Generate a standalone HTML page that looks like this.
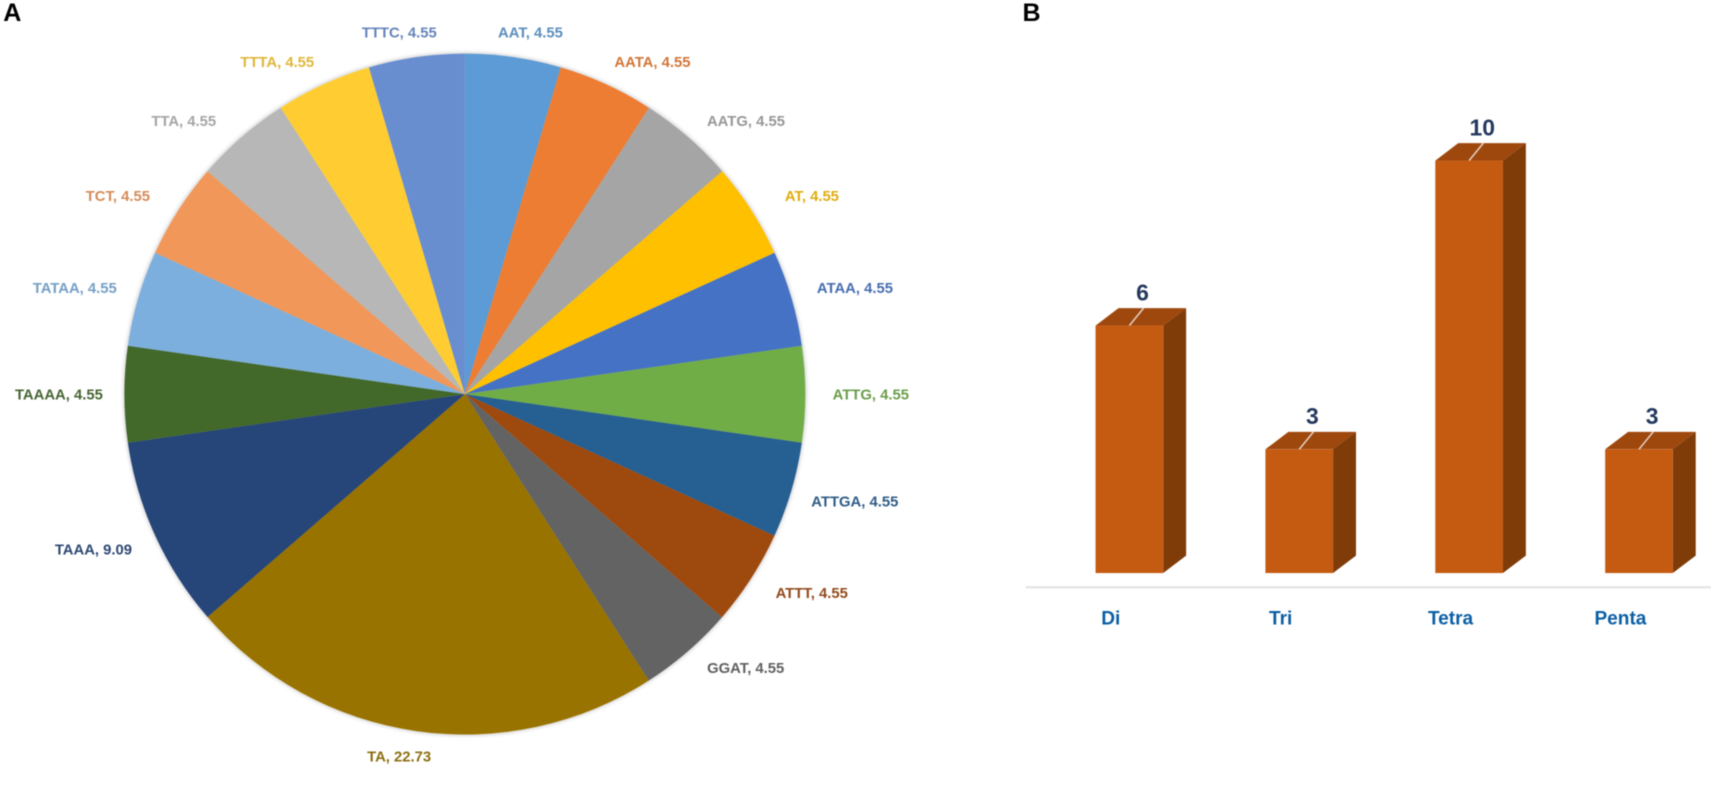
<!DOCTYPE html>
<html lang="en">
<head>
<meta charset="utf-8">
<title>Repeat motif pie chart and repeat type bar chart</title>
<style>
html,body{margin:0;padding:0;background:#fff;width:1711px;height:786px;overflow:hidden}
svg{display:block;filter:blur(0.5px)}
text{font-family:"Liberation Sans",sans-serif;font-weight:700}
</style>
</head>
<body>
<svg id="figure" xmlns="http://www.w3.org/2000/svg" width="1711" height="786" viewBox="0 0 1568 720">
  <defs>
    <filter id="pie-shadow" x="-10%" y="-10%" width="120%" height="120%">
      <feDropShadow dx="0" dy="0" stdDeviation="2.2" flood-color="#000" flood-opacity="0.3"/>
    </filter>
  </defs>
  <text x="3" y="19" font-size="23" fill="#000">A</text>
  <text x="937" y="19" font-size="23" fill="#000">B</text>
  <g id="pie" filter="url(#pie-shadow)"></g>
  <g id="pie-labels"></g>
  <line x1="940" y1="538" x2="1568" y2="538" stroke="#dfe1e3" stroke-width="1.8"/>
  <g id="bars"></g>
</svg>
<script>
const pieCategories = ["AAT","AATA","AATG","AT","ATAA","ATTG","ATTGA","ATTT","GGAT","TA","TAAA","TAAAA","TATAA","TCT","TTA","TTTA","TTTC"];
const pieValues = [4.55,4.55,4.55,4.55,4.55,4.55,4.55,4.55,4.55,22.73,9.09,4.55,4.55,4.55,4.55,4.55,4.55];
const barCategories = ["Di","Tri","Tetra","Penta"];
const barValues = [6,3,10,3];

const NS = "http://www.w3.org/2000/svg";
const palette = ["#5B9BD5","#ED7D31","#A5A5A5","#FFC000","#4472C4","#70AD47","#255E91","#9E480E","#636363","#997300","#264478","#43682B","#7CAFDD","#F1975A","#B7B7B7","#FFCD33","#698ED0"];
const pieCx = 426, pieCy = 361, pieR = 312;
const pieG = document.getElementById("pie");
const pieLabelG = document.getElementById("pie-labels");
const barG = document.getElementById("bars");

function make(tag, attrs, parent) {
  const el = document.createElementNS(NS, tag);
  for (const k in attrs) el.setAttribute(k, attrs[k]);
  parent.appendChild(el);
  return el;
}
function slug(s) { return s.toLowerCase(); }
function muted(hex) {
  const n = parseInt(hex.slice(1), 16);
  const mix = c => Math.round(c * 0.82 + 85 * 0.18);
  return "rgb(" + mix(n >> 16) + "," + mix((n >> 8) & 255) + "," + mix(n & 255) + ")";
}

const pieTotal = pieValues.reduce((a, b) => a + b, 0);
function angleOf(cum) { return cum / pieTotal * Math.PI * 2; }
function px(a, r) { return pieCx + r * Math.sin(a); }
function py(a, r) { return pieCy - r * Math.cos(a); }

let cumulative = 0;
pieValues.forEach((value, i) => {
  const a0 = angleOf(cumulative);
  const a1 = angleOf(cumulative + value);
  cumulative += value;
  const large = a1 - a0 > Math.PI ? 1 : 0;
  const d = "M" + pieCx + " " + pieCy + "L" + px(a0, pieR) + " " + py(a0, pieR) +
    "A" + pieR + " " + pieR + " 0 " + large + " 1 " + px(a1, pieR) + " " + py(a1, pieR) + "Z";
  const slice = make("path", { d: d, fill: palette[i % palette.length] }, pieG);
  
  

  const mid = (a0 + a1) / 2;
  const nudged = mid + (4.5 * Math.sin(2 * mid) + 1.5 * Math.sin(4 * mid)) * Math.PI / 180;
  const labelR = 328 + 44 * Math.pow(Math.abs(Math.sin(mid)), 0.8);
  const label = make("text", {
    x: px(nudged, labelR),
    y: py(nudged, labelR) + 5,
    "text-anchor": "middle",
    "font-size": 13.6,
    fill: muted(palette[i % palette.length])
  }, pieLabelG);
  
  
  label.textContent = pieCategories[i] + ", " + value.toFixed(2);
});

const barBase = 525, barUnit = 37.8, barW = 62, depthX = 21, depthY = 16;
function xBand(i) { return 1004 + 155.67 * i; }
function yVal(v) { return barBase - barUnit * v; }

barValues.forEach((value, i) => {
  const x = xBand(i), y = yVal(value), name = slug(barCategories[i]);

  const side = make("polygon", {
    points: [[x + barW, y], [x + barW + depthX, y - depthY], [x + barW + depthX, barBase - depthY], [x + barW, barBase]].join(" "),
    fill: "#7F3B08"
  }, barG);
  
  

  const top = make("polygon", {
    points: [[x, y], [x + depthX, y - depthY], [x + barW + depthX, y - depthY], [x + barW, y]].join(" "),
    fill: "#9E480E"
  }, barG);
  
  

  const front = make("rect", { x: x, y: y, width: barW, height: barBase - y, fill: "#C55A11" }, barG);
  
  

  const cx = x + barW / 2;
  const leader = make("line", {
    x1: cx, y1: y, x2: cx + 13, y2: y - depthY,
    stroke: "#E6D3C4", "stroke-width": 1.4
  }, barG);
  
  

  const valueLabel = make("text", {
    x: cx + 12, y: y - 23, "text-anchor": "middle", "font-size": 21, fill: "#24395E"
  }, barG);
  
  
  valueLabel.textContent = String(value);

  const cat = make("text", {
    x: cx - 17, y: 572, "text-anchor": "middle", "font-size": 17.5, fill: "#0B5FA5"
  }, barG);
  
  
  cat.textContent = barCategories[i];
});
</script>
</body>
</html>
